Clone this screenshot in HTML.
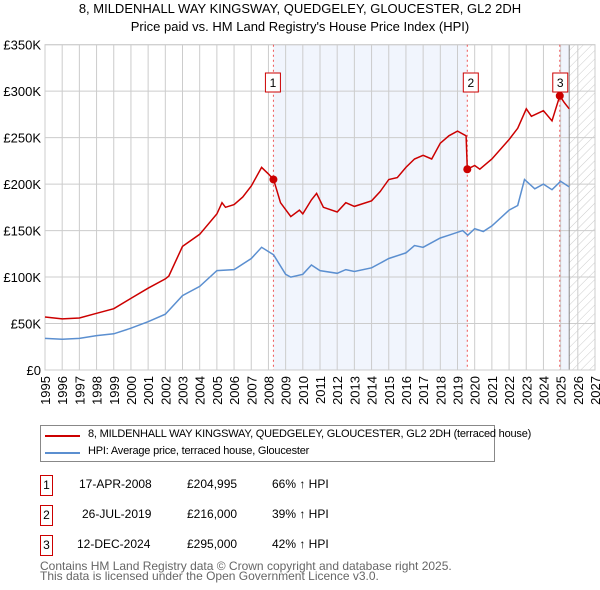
<!DOCTYPE html>
<html><head><meta charset="utf-8"><style>
body{margin:0;background:#fff;font-family:"Liberation Sans","DejaVu Sans",sans-serif;}
#wrap{position:relative;width:600px;height:590px;}
.t{position:absolute;font-size:13px;color:#000;white-space:nowrap}
</style></head><body><div id="wrap">
<div class="t" style="left:0;width:600px;text-align:center;top:1px">8, MILDENHALL WAY KINGSWAY, QUEDGELEY, GLOUCESTER, GL2 2DH</div>
<div class="t" style="left:0;width:600px;text-align:center;top:19px">Price paid vs. HM Land Registry's House Price Index (HPI)</div>
<svg id="svg" width="600" height="420" style="position:absolute;left:0;top:0">
<defs><pattern id="hatch" width="6" height="6" patternUnits="userSpaceOnUse" patternTransform="rotate(45)"><line x1="0" y1="0" x2="0" y2="6" stroke="#ccc" stroke-width="1"/></pattern></defs>
</svg>
<div style="position:absolute;left:40px;top:425px;width:453px;height:35px;border:1px solid #888;">
<div style="position:absolute;left:4px;top:9px;width:35px;height:2px;background:#cc0000"></div>
<div class="t" style="left:47px;top:2px;font-size:11px;letter-spacing:-0.2px">8, MILDENHALL WAY KINGSWAY, QUEDGELEY, GLOUCESTER, GL2 2DH (terraced house)</div>
<div style="position:absolute;left:4px;top:26px;width:35px;height:2px;background:#5b8fd0"></div>
<div class="t" style="left:47px;top:19px;font-size:11px;letter-spacing:-0.2px">HPI: Average price, terraced house, Gloucester</div>
</div>
<div id="tbl"></div>
<div class="t" style="left:40px;top:561px;font-size:12px;color:#666;line-height:10px">Contains HM Land Registry data © Crown copyright and database right 2025.<br>This data is licensed under the Open Government Licence v3.0.</div>
</div>
<script>
const hpiYears=[1995,1996,1997,1998,1999,2000,2001,2002,2003,2004,2005,2006,2007,2007.6,2008.3,2009,2009.3,2010,2010.5,2011,2012,2012.5,2013,2014,2015,2016,2016.5,2017,2018,2018.5,2019.3,2019.6,2020,2020.5,2021,2022,2022.5,2022.9,2023.5,2024,2024.5,2025,2025.5];
const hpiValues=[34000,33000,34000,37000,39000,45000,52000,60000,80000,90000,107000,108000,120000,132000,124000,103000,100000,103000,113000,107000,104000,108000,106000,110000,120000,126000,134000,132000,142000,145000,150000,145000,152000,149000,155000,172000,177000,205000,195000,200000,194000,203000,197000];
const propYears=[1995,1996,1997,1998,1999,2000,2001,2002,2002.2,2003,2004,2005,2005.3,2005.5,2006,2006.5,2007,2007.6,2008,2008.3,2008.7,2009.3,2009.8,2010,2010.5,2010.8,2011.2,2012,2012.5,2013,2014,2014.5,2015,2015.5,2016,2016.5,2017,2017.5,2018,2018.5,2019,2019.5,2019.57,2020,2020.3,2021,2022,2022.5,2023,2023.3,2024,2024.5,2024.95,2025.2,2025.5];
const propValues=[57000,55000,56000,61000,66000,77000,88000,98000,101000,133000,146000,168000,180000,175000,178000,186000,198000,218000,211000,205000,180000,165000,172000,168000,183000,190000,175000,170000,180000,176000,182000,192000,205000,207000,218000,227000,231000,227000,244000,252000,257000,252000,216000,220000,216000,227000,248000,260000,281000,273000,279000,268000,295000,288000,281000];
const saleYears=[2008.29,2019.57,2024.95];
const saleValues=[204995,216000,295000];
const saleLabels=["1","2","3"];
const saleDates=["17-APR-2008","26-JUL-2019","12-DEC-2024"];
const salePrices=["£204,995","£216,000","£295,000"];
const saleHpi=["66% ↑ HPI","39% ↑ HPI","42% ↑ HPI"];
const yTicks=[0,50000,100000,150000,200000,250000,300000,350000];
const yTickLabels=["£0","£50K","£100K","£150K","£200K","£250K","£300K","£350K"];
const xTicks=[1995,1996,1997,1998,1999,2000,2001,2002,2003,2004,2005,2006,2007,2008,2009,2010,2011,2012,2013,2014,2015,2016,2017,2018,2019,2020,2021,2022,2023,2024,2025,2026,2027];

const L=45,R=595,T=44.7,B=370,x0=1995,x1=2027,ymax=350000;
const X=v=>L+(v-x0)/(x1-x0)*(R-L);
const Y=v=>B-v/ymax*(B-T);
const svg=document.getElementById('svg');
const NS='http://www.w3.org/2000/svg';
function mk(tag,attrs){const e=document.createElementNS(NS,tag);for(const k in attrs)e.setAttribute(k,attrs[k]);svg.appendChild(e);return e;}
let e=mk('rect',{x:X(saleYears[0]),y:T,width:X(saleYears[1])-X(saleYears[0]),height:B-T,fill:'#eef3fc',opacity:0.8});


e=mk('rect',{x:X(saleYears[2]),y:T,width:X(2025.5)-X(saleYears[2]),height:B-T,fill:'#eef3fc',opacity:0.8});


e=mk('rect',{x:X(2025.5),y:T,width:R-X(2025.5),height:B-T,fill:'url(#hatch)'});


yTicks.forEach((v,i)=>{
 let g=mk('line',{x1:L,x2:R,y1:Y(v),y2:Y(v),stroke:'#cccccc','stroke-width':1});
 
 
 let t=mk('text',{x:L-4,y:Y(v)+5,'text-anchor':'end','font-size':13,fill:'#000'});
 t.textContent=yTickLabels[i];
 
 
});
xTicks.forEach(v=>{
 let g=mk('line',{x1:X(v),x2:X(v),y1:T,y2:B,stroke:'#cccccc','stroke-width':1});
 
 
 let t=mk('text',{transform:`translate(${X(v)+5},${B+6}) rotate(-90)`,'text-anchor':'end','font-size':13,fill:'#000'});
 t.textContent=v;
 
 
});
e=mk('line',{x1:X(2025.5),x2:X(2025.5),y1:T,y2:B,stroke:'#888','stroke-width':1});


e=mk('rect',{x:L,y:T,width:R-L,height:B-T,fill:'none',stroke:'#cccccc'});


saleYears.forEach((v,i)=>{
 let l=mk('line',{x1:X(v),x2:X(v),y1:T,y2:B,stroke:'#ee5555','stroke-width':1,'stroke-dasharray':'2,3'});
 
 
});
const pts=(xs,ys)=>xs.map((v,i)=>X(v).toFixed(1)+','+Y(ys[i]).toFixed(1)).join(' ');
e=mk('polyline',{points:pts(hpiYears,hpiValues),fill:'none',stroke:'#5b8fd0','stroke-width':1.5});


e=mk('polyline',{points:pts(propYears,propValues),fill:'none',stroke:'#cc0000','stroke-width':1.5});


saleYears.forEach((v,i)=>{
 let c=mk('circle',{cx:X(v),cy:Y(saleValues[i]),r:4,fill:'#cc0000'});
 
 
 let r=mk('rect',{x:X(v)-(i==0?8:i==1?4:7),y:73,width:15,height:19,fill:'#fff',stroke:'#cc0000'});
 
 
 let t=mk('text',{x:+r.getAttribute('x')+7.5,y:87,'text-anchor':'middle','font-size':12,fill:'#000'});
 t.textContent=saleLabels[i];
 
 
});
const tbl=document.getElementById('tbl');
saleLabels.forEach((s,i)=>{
 const top=475+i*30;
 const row=document.createElement('div');
 
 
 row.innerHTML=`<div style="position:absolute;left:40px;top:${top}px;width:11px;height:19px;border:1px solid #cc0000;font-size:12px;text-align:center;line-height:19px">${s}</div>
<div class="t" style="left:${i==1?82:i==2?77:79}px;top:${top+2}px;font-size:12px">${saleDates[i]}</div>
<div class="t" style="left:187px;top:${top+2}px;font-size:12px">${salePrices[i]}</div>
<div class="t" style="left:272px;top:${top+2}px;font-size:12px">${saleHpi[i]}</div>`;
 tbl.appendChild(row);
});
</script>
</body></html>
